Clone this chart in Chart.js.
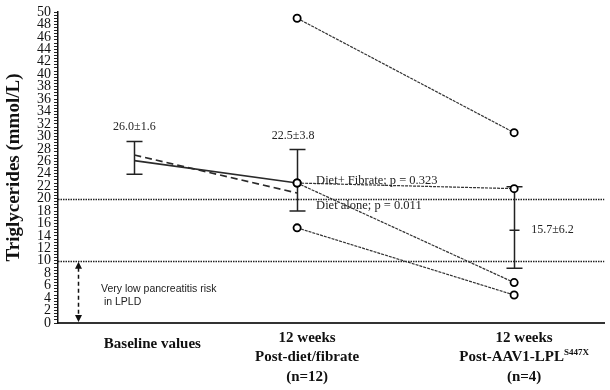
<!DOCTYPE html>
<html>
<head>
<meta charset="utf-8">
<title>Triglycerides</title>
<script src="https://cdn.jsdelivr.net/npm/chart.js"></script>
<style>
  html, body { margin: 0; padding: 0; background: #fff; }
  #wrap { width: 610px; height: 390px; }
</style>
</head>
<body>
<div id="wrap"><canvas id="tgChart"></canvas></div>
<script>
// time points on the x axis: baseline, 12 wk diet/fibrate, 12 wk post AAV1
const xPos = [0, 3, 7];
const timeLabels = [
  ['Baseline values'],
  ['12 weeks', 'Post-diet/fibrate', '(n=12)'],
  ['12 weeks', 'Post-AAV1-LPL', '(n=4)']
];
const supText = 'S447X';

// mean lines, baseline -> 12 weeks
const fibrateMean = [26.1, 22.5];
const dietAloneMean = [27.0, 20.9];

// individual patients, 12 weeks diet -> 12 weeks post AAV1
const patient1 = [49.0, 30.6];
const patient2 = [22.5, 21.6];
const patient3 = [22.5, 6.5];
const patient4 = [15.3, 4.5];

// error bars at each time point
const errLow = [23.9, 18.0, 8.8];
const errHigh = [29.2, 27.9, 21.9];
const errMid = [null, null, 14.9];
const errText = ['26.0\u00b11.6', '22.5\u00b13.8', '15.7\u00b16.2'];

const refLines = [20, 10];
const yTickLabels = [0, 2, 4, 6, 8, 10, 12, 14, 16, 18, 20, 22, 24, 26, 28, 30, 32, 34, 36, 38, 40, 42, 44, 46, 48, 50];

const SERIF = '"Liberation Serif", "Times New Roman", serif';
const SANS = '"Liberation Sans", Arial, sans-serif';

function pts(values, xs) {
  return values.map((y, i) => ({ x: xs[i], y: y }));
}

function patientSet(values) {
  return {
    data: pts(values, [xPos[1], xPos[2]]),
    borderColor: '#333',
    borderWidth: 1.2,
    borderDash: [3, 1],
    pointRadius: 3.6,
    pointBackgroundColor: '#fff',
    pointBorderColor: '#000',
    pointBorderWidth: 1.8
  };
}

const extras = {
  id: 'extras',
  beforeDatasetsDraw(chart) {
    const { ctx, chartArea, scales: { x, y } } = chart;
    ctx.save();
    // dotted reference lines
    ctx.strokeStyle = '#222';
    ctx.lineWidth = 1.3;
    ctx.setLineDash([1.5, 1]);
    refLines.forEach(v => {
      const py = Math.round(y.getPixelForValue(v)) + 0.5;
      ctx.beginPath();
      ctx.moveTo(chartArea.left, py);
      ctx.lineTo(chartArea.right, py);
      ctx.stroke();
    });
    // error bars
    ctx.setLineDash([]);
    ctx.strokeStyle = '#222';
    ctx.lineWidth = 1.5;
    xPos.forEach((xv, i) => {
      const px = Math.round(x.getPixelForValue(xv)) + 0.5;
      const lo = y.getPixelForValue(errLow[i]);
      const hi = y.getPixelForValue(errHigh[i]);
      ctx.beginPath();
      ctx.moveTo(px, lo); ctx.lineTo(px, hi);
      ctx.moveTo(px - 8, lo); ctx.lineTo(px + 8, lo);
      ctx.moveTo(px - 8, hi); ctx.lineTo(px + 8, hi);
      if (errMid[i] !== null) {
        const m = y.getPixelForValue(errMid[i]);
        ctx.moveTo(px - 5, m); ctx.lineTo(px + 5, m);
      }
      ctx.stroke();
    });
    ctx.restore();
  },
  afterDraw(chart) {
    const { ctx, chartArea, scales: { x, y } } = chart;
    ctx.save();
    ctx.textBaseline = 'middle';

    // error bar value labels
    ctx.fillStyle = '#222';
    ctx.font = '12px ' + SERIF;
    ctx.textAlign = 'center';
    ctx.fillText(errText[0], x.getPixelForValue(xPos[0]), y.getPixelForValue(errHigh[0]) - 15);
    ctx.fillText(errText[1], x.getPixelForValue(xPos[1]) - 4, y.getPixelForValue(errHigh[1]) - 14);
    ctx.textAlign = 'left';
    ctx.fillText(errText[2], x.getPixelForValue(xPos[2]) + 17, y.getPixelForValue(errMid[2]));

    // p-value labels
    ctx.font = '12.5px ' + SERIF;
    ctx.fillText('Diet+ Fibrate; p = 0.323', x.getPixelForValue(xPos[1]) + 19, y.getPixelForValue(fibrateMean[1]) - 2);
    ctx.fillText('Diet alone; p = 0.011', x.getPixelForValue(xPos[1]) + 19, y.getPixelForValue(refLines[0]) + 7);

    // double arrow for the low risk zone
    const ax = chartArea.left + 20.5;
    const aTop = y.getPixelForValue(refLines[1]) + 1;
    const aBot = y.getPixelForValue(0) - 1;
    ctx.strokeStyle = '#111';
    ctx.fillStyle = '#111';
    ctx.lineWidth = 1.5;
    ctx.setLineDash([4, 3]);
    ctx.beginPath();
    ctx.moveTo(ax, aTop + 6); ctx.lineTo(ax, aBot - 6);
    ctx.stroke();
    ctx.setLineDash([]);
    ctx.beginPath();
    ctx.moveTo(ax, aTop); ctx.lineTo(ax - 3.5, aTop + 7); ctx.lineTo(ax + 3.5, aTop + 7); ctx.closePath();
    ctx.moveTo(ax, aBot); ctx.lineTo(ax - 3.5, aBot - 7); ctx.lineTo(ax + 3.5, aBot - 7); ctx.closePath();
    ctx.fill();

    ctx.fillStyle = '#222';
    ctx.font = '10.5px ' + SANS;
    ctx.fillText('Very low pancreatitis risk', chartArea.left + 43, y.getPixelForValue(5) - 3);
    ctx.fillText(' in LPLD', chartArea.left + 43, y.getPixelForValue(5) + 10);

    // x category labels
    ctx.fillStyle = '#111';
    const bottom = chartArea.bottom;
    timeLabels.forEach((lines, i) => {
      const cx = x.getPixelForValue(xPos[i]) + (lines.length === 1 ? 18 : 10);
      lines.forEach((t, j) => {
        const ly = lines.length === 1 ? bottom + 21 : bottom + 15 + j * 19.5;
        ctx.font = 'bold 15px ' + SERIF;
        if (i === 2 && j === 1) {
          const w1 = ctx.measureText(t).width;
          ctx.font = 'bold 9px ' + SERIF;
          const w2 = ctx.measureText(supText).width;
          const sx = cx - (w1 + w2) / 2;
          ctx.textAlign = 'left';
          ctx.font = 'bold 15px ' + SERIF;
          ctx.fillText(t, sx, ly);
          ctx.font = 'bold 9px ' + SERIF;
          ctx.fillText(supText, sx + w1, ly - 5);
        } else {
          ctx.textAlign = 'center';
          ctx.fillText(t, cx, ly);
        }
      });
    });
    ctx.restore();
  }
};

new Chart(document.getElementById('tgChart'), {
  type: 'line',
  data: {
    datasets: [
      patientSet(patient1),
      patientSet(patient2),
      patientSet(patient3),
      patientSet(patient4),
      {
        data: pts(fibrateMean, [xPos[0], xPos[1]]),
        borderColor: '#2a2a2a',
        borderWidth: 1.6,
        pointRadius: 0
      },
      {
        data: pts(dietAloneMean, [xPos[0], xPos[1]]),
        borderColor: '#2a2a2a',
        borderWidth: 1.6,
        borderDash: [7, 4],
        pointRadius: 0
      }
    ]
  },
  options: {
    animation: false,
    responsive: true,
    maintainAspectRatio: false,
    layout: { padding: { top: 12, right: 0, bottom: 0, left: 0 } },
    plugins: { legend: { display: false }, tooltip: { enabled: false } },
    scales: {
      x: {
        type: 'linear',
        min: -1.407,
        max: 8.66,
        grid: { display: false },
        ticks: { display: false },
        border: { display: true, color: '#333', width: 2 },
        afterFit: s => { s.height = 67; }
      },
      y: {
        min: 0,
        max: 50,
        ticks: {
          stepSize: 0.5,
          autoSkip: false,
          padding: 3,
          color: '#111',
          font: { family: SERIF, size: 14 },
          callback: v => (yTickLabels.includes(v) ? String(v) : '')
        },
        grid: { display: true, drawOnChartArea: false, drawTicks: true, tickLength: 4, color: '#222', lineWidth: 1 },
        border: { display: true, color: '#111', width: 1.5 },
        title: {
          display: true,
          text: 'Triglycerides (mmol/L)',
          color: '#111',
          font: { family: SERIF, size: 19, weight: 'bold' },
          padding: { top: 3, bottom: 0 }
        },
        afterFit: s => { s.width = 58; }
      }
    }
  },
  plugins: [extras]
});
</script>
</body>
</html>
